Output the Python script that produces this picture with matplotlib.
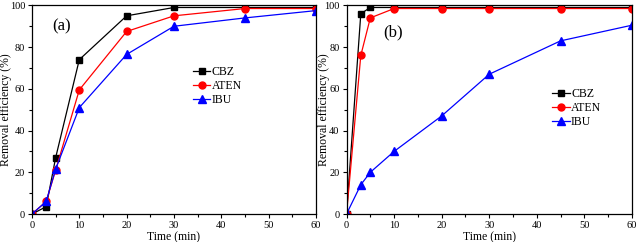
import numpy as np
import matplotlib
matplotlib.use('Agg')
import matplotlib.pyplot as plt
from matplotlib.ticker import MultipleLocator

plt.rcParams['font.family'] = ['Liberation Serif', 'DejaVu Serif']

# sampling times (min)
time = [0, 3, 5, 10, 20, 30, 45, 60]

# panel (a)
cbz_a = [0, 3.5, 27, 74, 95, 99, 99, 99]
aten_a = [0, 6, 21, 59.5, 87.5, 95, 98.5, 98.5]
ibu_a = [0, 6, 21.5, 51, 76.5, 90, 94, 97.5]

# panel (b)
cbz_b = [0, 96, 99, 99, 99, 99, 99, 99]
aten_b = [0, 76, 94, 98.5, 98.5, 98.5, 98.5, 98.5]
ibu_b = [0, 14, 20, 30, 47, 67, 83, 90.5]

labels = ['CBZ', 'ATEN', 'IBU']

fig = plt.figure(figsize=(6.37, 2.42), dpi=100)
ax1 = fig.add_axes([0.0502, 0.1157, 0.4458, 0.862])
ax2 = fig.add_axes([0.544, 0.1157, 0.448, 0.862])


def draw(ax, cbz, aten, ibu, tag, tagpos, legpos, ylab_x):
    ax.plot(time, cbz, color='black', marker='s', ms=4.5, lw=0.9, label=labels[0])
    ax.plot(time, aten, color='red', marker='o', ms=5, lw=0.9, label=labels[1])
    ax.plot(time, ibu, color='blue', marker='^', ms=5.5, lw=0.9, label=labels[2])
    ax.set_xlim(0, 60)
    ax.set_ylim(0, 100)
    ax.xaxis.set_major_locator(MultipleLocator(10))
    ax.xaxis.set_minor_locator(MultipleLocator(5))
    ax.yaxis.set_major_locator(MultipleLocator(20))
    ax.yaxis.set_minor_locator(MultipleLocator(10))
    ax.tick_params(which='both', direction='out', labelsize=7.5, pad=2,
                   top=False, right=False)
    ax.tick_params(which='major', length=3, width=0.8)
    ax.tick_params(which='minor', length=2, width=0.8)
    ax.set_xlabel('Time (min)', fontsize=8.5, labelpad=1)
    ax.set_ylabel('Removal efficiency (%)', fontsize=8.5, va='center')
    ax.yaxis.set_label_coords(ylab_x, 0.5)
    ax.text(tagpos[0], tagpos[1], tag, transform=ax.transAxes, fontsize=12,
            ha='left', va='center')
    ax.legend(loc='upper left', bbox_to_anchor=legpos, frameon=False,
              fontsize=8.5, handlelength=1.5, handletextpad=0.1,
              labelspacing=0.15, borderpad=0)
    for s in ax.spines.values():
        s.set_linewidth(0.9)


draw(ax1, cbz_a, aten_a, ibu_a, '(a)', (0.07, 0.90), (0.545, 0.737), -0.092)
draw(ax2, cbz_b, aten_b, ibu_b, '(b)', (0.13, 0.87), (0.70, 0.63), -0.08)

fig.savefig('out.png', dpi=100)
